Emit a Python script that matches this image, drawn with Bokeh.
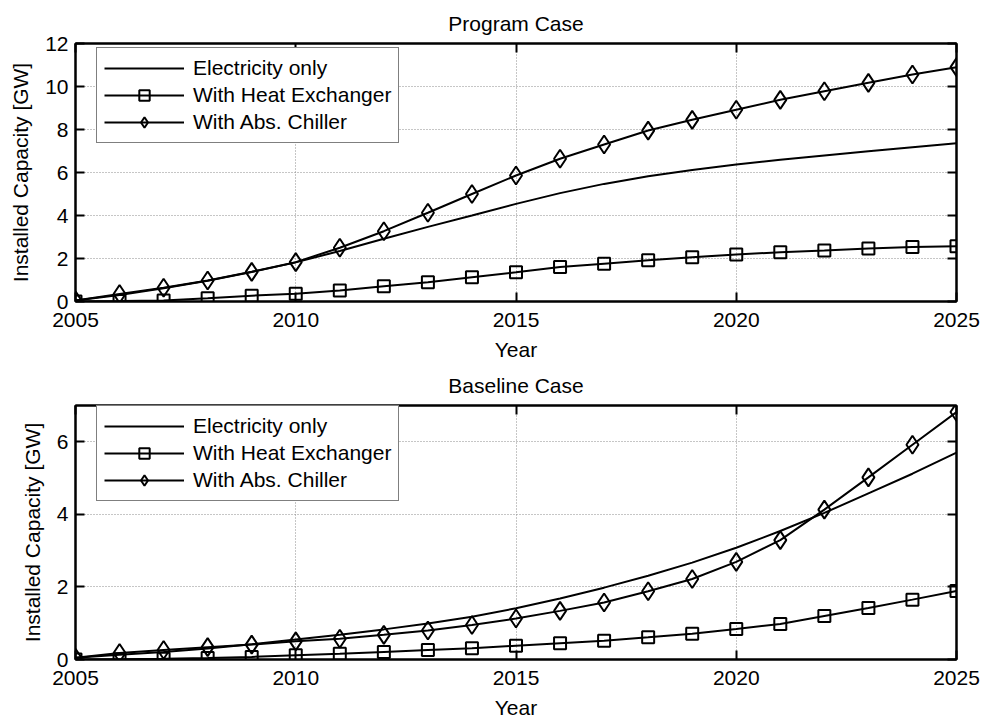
from bokeh.plotting import figure
from bokeh.models import Range1d, FixedTicker, LinearAxis, Legend, LegendItem
from bokeh.layouts import column
from bokeh.embed import file_html
from bokeh.resources import INLINE

# ---------------- data ----------------
years = list(range(2005, 2026))

prog_elec = [0.05, 0.30, 0.62, 0.97, 1.37, 1.82, 2.35, 2.92, 3.47, 4.00, 4.54,
             5.04, 5.47, 5.83, 6.12, 6.37, 6.59, 6.79, 6.99, 7.18, 7.36]
prog_hx = [0.00, 0.02, 0.05, 0.15, 0.27, 0.36, 0.51, 0.71, 0.90, 1.13, 1.36,
           1.60, 1.76, 1.92, 2.06, 2.19, 2.29, 2.37, 2.47, 2.53, 2.57]
prog_chiller = [0.05, 0.35, 0.64, 0.98, 1.38, 1.83, 2.50, 3.27, 4.13, 5.00, 5.86,
                6.64, 7.30, 7.95, 8.45, 8.92, 9.38, 9.78, 10.17, 10.56, 10.90]

base_elec = [0.05, 0.13, 0.21, 0.30, 0.42, 0.55, 0.68, 0.83, 0.99, 1.18, 1.41,
             1.68, 1.98, 2.31, 2.67, 3.08, 3.54, 4.04, 4.58, 5.12, 5.70]
base_hx = [0.00, 0.01, 0.02, 0.04, 0.07, 0.12, 0.16, 0.21, 0.26, 0.31, 0.38,
           0.45, 0.52, 0.61, 0.71, 0.84, 0.98, 1.20, 1.42, 1.65, 1.89]
base_chiller = [0.05, 0.18, 0.26, 0.34, 0.41, 0.50, 0.57, 0.68, 0.80, 0.95, 1.13,
                1.34, 1.57, 1.88, 2.22, 2.69, 3.29, 4.13, 5.02, 5.92, 6.82]

x_ticks = [2005, 2010, 2015, 2020, 2025]
prog_y_ticks = [0, 2, 4, 6, 8, 10, 12]
base_y_ticks = [0, 2, 4, 6]
series_labels = ["Electricity only", "With Heat Exchanger", "With Abs. Chiller"]
titles = ["Program Case", "Baseline Case"]
x_label = "Year"
y_label = "Installed Capacity [GW]"

FONT = "Liberation Sans"
FS = "21px"


def style_axis(ax, show_labels=True):
    ax.major_tick_in = 9
    ax.major_tick_out = 0
    ax.minor_tick_line_color = None
    ax.axis_line_width = 2
    ax.axis_line_color = "black"
    ax.major_tick_line_width = 2
    ax.major_tick_line_color = "black"
    ax.major_label_text_font = FONT
    ax.axis_label_text_font = FONT
    ax.axis_label_text_font_size = FS
    ax.axis_label_text_font_style = "normal"
    ax.axis_label_text_color = "black"
    if show_labels:
        ax.major_label_text_font_size = FS
        ax.major_label_text_color = "black"
    else:
        ax.major_label_text_font_size = "1px"
        ax.major_label_text_color = None
        ax.major_label_standoff = 0


def make_fig(title, elec, hx, chiller, y_max, y_ticks, height, b_top, b_bottom, t_standoff):
    p = figure(width=982, height=height, output_backend="svg", toolbar_location=None,
               x_range=Range1d(2005, 2025), y_range=Range1d(0, y_max),
               min_border_left=75, min_border_right=26,
               min_border_top=b_top, min_border_bottom=b_bottom,
               title=title, x_axis_label=x_label, y_axis_label=y_label)
    p.title.text_font = FONT
    p.title.text_font_size = FS
    p.title.text_font_style = "normal"
    p.title.text_color = "black"
    p.title.align = "center"
    p.title.standoff = t_standoff

    p.xaxis.ticker = FixedTicker(ticks=x_ticks)
    p.yaxis.ticker = FixedTicker(ticks=y_ticks)
    for ax in p.xaxis:
        style_axis(ax)
        ax.major_label_standoff = 11
        ax.axis_label_standoff = 8
    for ax in p.yaxis:
        style_axis(ax)
        ax.major_label_standoff = 7
        ax.axis_label_standoff = 10

    top_ax = LinearAxis(ticker=FixedTicker(ticks=x_ticks))
    style_axis(top_ax, show_labels=False)
    p.add_layout(top_ax, "above")
    right_ax = LinearAxis(ticker=FixedTicker(ticks=y_ticks))
    style_axis(right_ax, show_labels=False)
    p.add_layout(right_ax, "right")

    p.outline_line_color = "black"
    p.outline_line_width = 2

    p.xgrid.ticker = FixedTicker(ticks=x_ticks)
    p.ygrid.ticker = FixedTicker(ticks=y_ticks)
    for g in (p.xgrid, p.ygrid):
        g.grid_line_color = "#8c8c8c"
        g.grid_line_dash = "1 2"
        g.grid_line_width = 1

    r_e = p.line(years, elec, line_color="black", line_width=2)
    r_h = p.line(years, hx, line_color="black", line_width=2)
    s_h = p.scatter(years, hx, marker="square", size=12, line_color="black",
                    line_width=2, fill_color=None)
    r_c = p.line(years, chiller, line_color="black", line_width=2)
    s_c = p.scatter(years, chiller, marker="diamond", size=18, line_color="black",
                    line_width=2, fill_color=None)

    legend = Legend(items=[LegendItem(label=series_labels[0], renderers=[r_e]),
                           LegendItem(label=series_labels[1], renderers=[r_h, s_h]),
                           LegendItem(label=series_labels[2], renderers=[r_c, s_c])],
                    location=(21, 158))
    legend.border_line_color = "black"
    legend.border_line_width = 1.5
    legend.background_fill_color = "white"
    legend.background_fill_alpha = 1.0
    legend.padding = 7
    legend.spacing = 1
    legend.margin = 0
    legend.glyph_height = 26
    legend.glyph_width = 80
    legend.label_standoff = 9
    legend.label_text_font = FONT
    legend.label_text_font_size = FS
    legend.label_text_color = "black"
    p.add_layout(legend, "center")
    return p


# fig 1: frame 43..301 (258 px); fig 2: frame 403..659 (256 px)
p1 = make_fig(titles[0], prog_elec, prog_hx, prog_chiller, 12, prog_y_ticks,
              363, 43, 62, 18)
p2 = make_fig(titles[1], base_elec, base_hx, base_chiller, 7, base_y_ticks,
              358, 40, 62, 17)

layout = column(p1, p2)
open("out.html", "w").write(file_html(layout, INLINE))
